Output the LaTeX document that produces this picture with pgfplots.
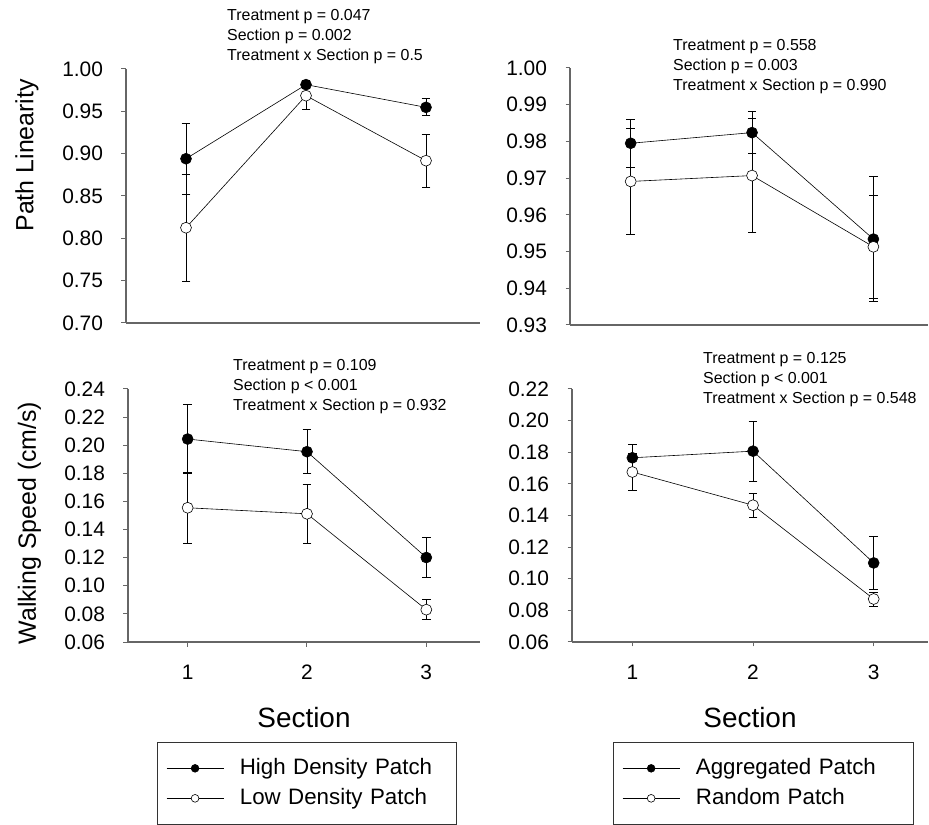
\documentclass[border=0pt]{standalone}
\usepackage{fontspec}
\setmainfont{Liberation Sans}
\usepackage{pgfplots}
\pgfplotsset{compat=1.18}

\definecolor{axgray}{gray}{0.4}

\pgfplotsset{
  panel/.style={
    scale only axis,
    axis x line*=bottom,
    axis y line*=left,
    axis line style={axgray, line width=1.2bp, -},
    xmin=0.5, xmax=3.45,
    tick align=outside,
    major tick length=4.5bp,
    tick style={axgray, line width=1bp},
    /pgf/number format/assume math mode=true,
    tick label style={font=\fontsize{21}{22}\selectfont},
    yticklabel style={xshift=-15bp},
    label style={font=\fontsize{25}{26}\selectfont},
    ylabel style={at={(axis description cs:-0.28,0.5)}, anchor=center},
    clip=false,
  },
  hi/.style={black, line width=0.6bp, mark=*, mark size=5.5pt,
    mark options={fill=black, draw=black, line width=0.6bp},
    error bars/.cd, y dir=both, y explicit,
    error bar style={black, line width=0.8bp},
    error mark options={black, rotate=90, mark size=4.3pt, line width=0.8bp}},
  lo/.style={black, line width=0.6bp, mark=*, mark size=5.5pt,
    mark options={fill=white, draw=black, line width=0.6bp},
    error bars/.cd, y dir=both, y explicit,
    error bar style={black, line width=0.8bp},
    error mark options={black, rotate=90, mark size=4.3pt, line width=0.8bp}},
  mylegend/.style={
    legend cell align=left,
    legend style={anchor=north west, draw=black!80, line width=0.8bp,
      font=\fontsize{22.4}{23}\selectfont,
      inner xsep=9bp, inner ysep=13bp,
      nodes={inner sep=2bp, text height=17bp, text depth=5bp},
      /tikz/column 2/.style={nodes={text width=206bp, align=left}},
      /tikz/every odd column/.append style={column sep=14bp},
      row sep=4bp},
    legend image code/.code={%
      \draw[#1, mark=none] (0bp,0bp) -- (57bp,0bp);
      \draw[#1, mark size=3.9pt] plot coordinates {(28.5bp,0bp)};}
  },
}

\pgfplotstableread{
x y e
1 0.894 0.042
2 0.9815 0.005
3 0.9547 0.010
}\tlhi
\pgfplotstableread{
x y e
1 0.8125 0.063
2 0.9685 0.016
3 0.8917 0.031
}\tllo
\pgfplotstableread{
x y e
1 0.9795 0.0066
2 0.9824 0.0057
3 0.9534 0.0171
}\trhi
\pgfplotstableread{
x y e
1 0.9691 0.0145
2 0.9707 0.0155
3 0.9513 0.0140
}\trlo
\pgfplotstableread{
x y e
1 0.2044 0.0245
2 0.1954 0.0157
3 0.1201 0.0143
}\blhi
\pgfplotstableread{
x y e
1 0.1555 0.025
2 0.1512 0.021
3 0.0830 0.0071
}\bllo
\pgfplotstableread{
x y e
1 0.1765 0.0087
2 0.1807 0.019
3 0.110 0.0166
}\brhi
\pgfplotstableread{
x y e
1 0.1675 0.0118
2 0.1465 0.0077
3 0.0872 0.0044
}\brlo

\begin{document}
\begin{tikzpicture}
\useasboundingbox (0bp,0bp) rectangle (929bp,825bp);

% top-left
\begin{axis}[panel, at={(126bp,502bp)}, anchor=south west,
  width=354bp, height=254bp,
  ymin=0.70, ymax=1.00, ytick={0.70,0.75,...,1.001},
  yticklabel style={/pgf/number format/.cd, fixed, fixed zerofill, precision=2},
  xtick=\empty,
  ylabel={Path Linearity},
  ylabel style={at={(axis description cs:-0.28,0.66)}}]
\addplot+[hi] table[x=x, y=y, y error=e] {\tlhi};
\addplot+[lo] table[x=x, y=y, y error=e] {\tllo};
\end{axis}

% top-right
\begin{axis}[panel, at={(570bp,500bp)}, anchor=south west,
  width=358bp, height=257bp,
  ymin=0.93, ymax=1.00, ytick={0.93,0.94,...,1.001},
  yticklabel style={/pgf/number format/.cd, fixed, fixed zerofill, precision=2},
  xtick=\empty]
\addplot+[hi] table[x=x, y=y, y error=e] {\trhi};
\addplot+[lo] table[x=x, y=y, y error=e] {\trlo};
\end{axis}

% bottom-left
\begin{axis}[panel, mylegend, at={(128bp,183bp)}, anchor=south west,
  width=352bp, height=253bp,
  ymin=0.06, ymax=0.24, ytick={0.06,0.08,...,0.241},
  yticklabel style={/pgf/number format/.cd, fixed, fixed zerofill, precision=2},
  xtick={1,2,3}, xticklabel style={yshift=-15bp},
  ylabel={Walking Speed (cm/s)},
  ylabel style={at={(axis description cs:-0.28,0.47)}},
  xlabel={Section},
  xlabel style={at={(axis description cs:0.5,-0.30)}, anchor=center, font=\fontsize{28}{29}\selectfont},
  legend style={at={(axis description cs:0.082,-0.395)}}]
\addplot+[hi] table[x=x, y=y, y error=e] {\blhi};
\addlegendentry{High Density Patch}
\addplot+[lo] table[x=x, y=y, y error=e] {\bllo};
\addlegendentry{Low Density Patch}
\end{axis}

% bottom-right
\begin{axis}[panel, mylegend, at={(572bp,183bp)}, anchor=south west,
  width=356bp, height=253bp,
  ymin=0.06, ymax=0.22, ytick={0.06,0.08,...,0.221},
  yticklabel style={/pgf/number format/.cd, fixed, fixed zerofill, precision=2},
  xtick={1,2,3}, xticklabel style={yshift=-15bp},
  xlabel={Section},
  xlabel style={at={(axis description cs:0.5,-0.30)}, anchor=center, font=\fontsize{28}{29}\selectfont},
  legend style={at={(axis description cs:0.115,-0.395)}}]
\addplot+[hi] table[x=x, y=y, y error=e] {\brhi};
\addlegendentry{Aggregated Patch}
\addplot+[lo] table[x=x, y=y, y error=e] {\brlo};
\addlegendentry{Random Patch}
\end{axis}

% p-value annotations
\begin{scope}[every node/.style={anchor=north west, inner sep=0pt, align=left,
    font=\fontsize{16}{20}\selectfont}]
\node at (227bp,816bp) {Treatment p = 0.047\\Section p = 0.002\\Treatment x Section p = 0.5};
\node at (673bp,786bp) {Treatment p = 0.558\\Section p = 0.003\\Treatment x Section p = 0.990};
\node at (233bp,466bp) {Treatment p = 0.109\\Section p {<} 0.001\\Treatment x Section p = 0.932};
\node at (703bp,473bp) {Treatment p = 0.125\\Section p {<} 0.001\\Treatment x Section p = 0.548};
\end{scope}
\end{tikzpicture}
\end{document}
